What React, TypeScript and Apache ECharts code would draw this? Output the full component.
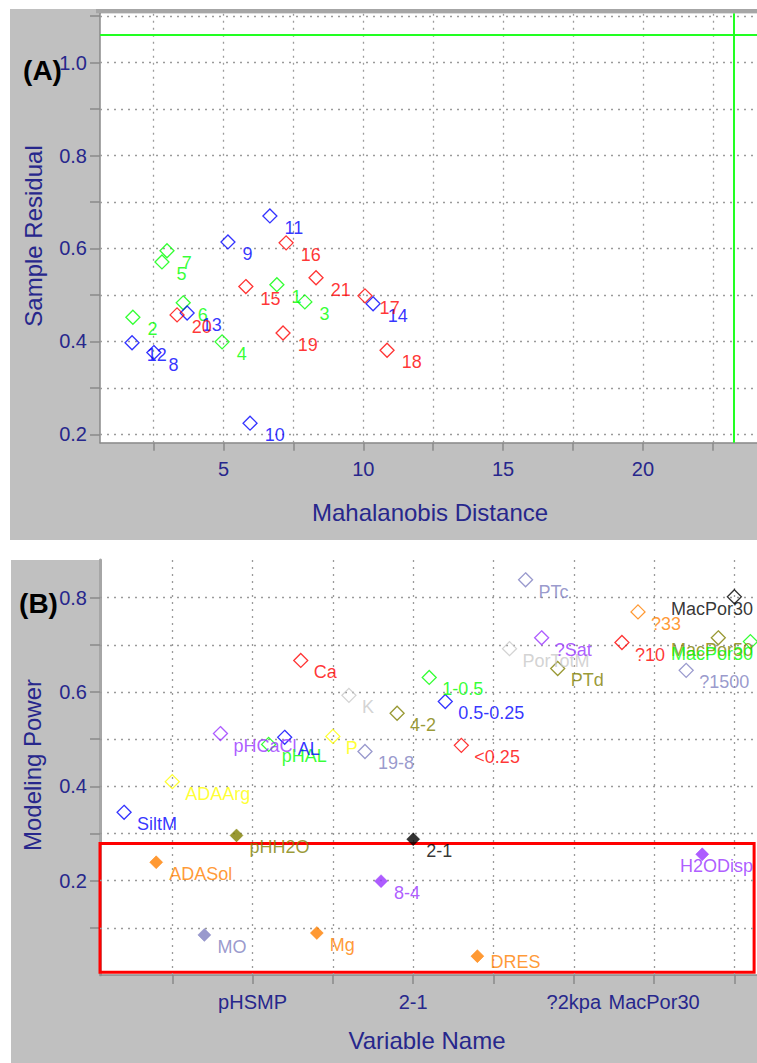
import React, { useEffect, useRef } from "react";
import * as echarts from "echarts";

// ---------- Panel A: sample residual vs Mahalanobis distance ----------
const sampleIds = ["1","2","3","4","5","6","7","8","9","10","11","12","13","14","15","16","17","18","19","20","21"];
const sampleClass = ["1","1","1","1","1","1","1","2","2","2","2","2","2","2","3","3","3","3","3","3","3"];
const mahalanobisDistance = [6.91, 1.76, 7.91, 4.95, 2.8, 3.56, 2.98, 2.51, 5.16, 5.95, 6.66, 1.73, 3.7, 10.35, 5.8, 7.24, 10.06, 10.85, 7.13, 3.34, 8.31];
const sampleResidual = [0.522, 0.452, 0.485, 0.399, 0.571, 0.483, 0.595, 0.376, 0.614, 0.224, 0.67, 0.397, 0.461, 0.481, 0.518, 0.612, 0.498, 0.381, 0.418, 0.457, 0.537];
const residualLimit = 1.062;
const distanceLimit = 23.25;
const xRangeA = [0.584, 24.08];
const yRangeA = [0.182, 1.106];
const xTicksA = [2.5, 5, 7.5, 10, 12.5, 15, 17.5, 20, 22.5];
const xLabelsA = [5, 10, 15, 20];
const yTicksA = [0.2, 0.3, 0.4, 0.5, 0.6, 0.7, 0.8, 0.9, 1.0, 1.1];
const yLabelsA = [0.2, 0.4, 0.6, 0.8, 1.0];

// ---------- Panel B: modeling power per variable ----------
const variableIndex = [2, 4, 5, 7, 8, 9, 11, 12, 13, 14, 15, 16, 17, 18, 19, 20, 21, 22, 23, 24, 26, 27, 28, 29, 33, 34, 37, 38, 39, 40, 41];
const variableNames = ["SiltM", "ADASol", "ADAArg", "MO", "pHCaCl", "pHH2O", "pHAL", "AL", "Ca", "Mg", "P", "K", "19-8", "8-4", "4-2", "2-1", "1-0.5", "0.5-0.25", "<0.25", "DRES", "PorTotM", "PTc", "?Sat", "PTd", "?10", "?33", "?1500", "H2ODisp", "MacPor50", "MacPor30", "MacPor30"];
const modelingPower = [0.345, 0.239, 0.41, 0.085, 0.512, 0.296, 0.489, 0.504, 0.667, 0.089, 0.506, 0.593, 0.474, 0.199, 0.555, 0.288, 0.631, 0.58, 0.487, 0.04, 0.692, 0.838, 0.715, 0.65, 0.705, 0.77, 0.646, 0.256, 0.715, 0.802, 0.707];
const lowPowerThreshold = 0.3;
const lowPowerBoxX = [0.5, 41.23];
const lowPowerBoxY = [0.006, 0.279];
const xRangeB = [0.5, 41.41];
const yRangeB = [0, 0.88];
const xTicksB = [5, 10, 15, 20, 25, 30, 35, 40];
const xTickLabelValuesB = [10, 20, 30, 35];
const xTickLabelNamesB = ["pHSMP", "2-1", "?2kpa", "MacPor30"];
const yTicksB = [0.1, 0.2, 0.3, 0.4, 0.5, 0.6, 0.7, 0.8];
const yLabelsB = [0.2, 0.4, 0.6, 0.8];

// ---------- styles ----------
const FONT = "'Liberation Sans', Arial, sans-serif";
const AXIS_TEXT = "#27278c";
const CLASS_COLORS: Record<string, string> = { "1": "#00ff00", "2": "#0000ff", "3": "#ff0000" };
// colour cycle of the variables by index (mod 10)
const VAR_PALETTE = ["#000000", "#00ff00", "#0000ff", "#ff0000", "#ff8000", "#ffff00", "#c8c8c8", "#8080c0", "#9933ff", "#808000"];
const GRID_LINE = { type: [2, 5] as any, color: "#9a9a9a", width: 1.3 };

export default function App() {
  const ref = useRef<HTMLDivElement>(null);

  useEffect(() => {
    if (!ref.current) return;
    const chart = echarts.init(ref.current, undefined, { renderer: "svg" });
    const W = 757;
    const PLOT_B_BOTTOM = 971;

    const labelBase = {
      show: true,
      position: "right" as const,
      distance: 7,
      offset: [0, 12],
      formatter: "{b}",
      fontSize: 18,
      fontFamily: FONT,
    };

    const classSeries = ["1", "2", "3"].map((c) => {
      const col = CLASS_COLORS[c];
      return {
        type: "scatter",
        name: "Class " + c,
        xAxisIndex: 0,
        yAxisIndex: 0,
        symbol: "diamond",
        symbolSize: 14,
        z: 5,
        silent: true,
        itemStyle: { color: "rgba(0,0,0,0)", borderColor: col, borderWidth: 1.3 },
        label: { ...labelBase, color: col },
        data: sampleIds
          .map((id, i) => ({ id, i }))
          .filter((d) => sampleClass[d.i] === c)
          .map((d) => ({ name: d.id, value: [mahalanobisDistance[d.i], sampleResidual[d.i]] })),
      };
    });

    const varData = variableIndex.map((idx, i) => {
      const col = VAR_PALETTE[idx % 10];
      const filled = modelingPower[i] < lowPowerThreshold;
      return {
        name: variableNames[i],
        value: [idx, modelingPower[i]],
        symbolSize: filled ? 13 : 14,
        itemStyle: filled
          ? { color: col, borderColor: col, borderWidth: 0.5 }
          : { color: "rgba(0,0,0,0)", borderColor: col, borderWidth: 1.3 },
        label: { color: col },
      };
    });

    const axisLineStyle = { color: "#8a8a8a", width: 1.5 };

    const option: any = {
      animation: false,
      backgroundColor: "#ffffff",
      textStyle: { fontFamily: FONT },
      grid: [
        { left: 100, top: 13.3, right: 0, height: 429.4, show: true, backgroundColor: "#ffffff", borderWidth: 0, z: 0 },
        { left: 100, top: 560, right: 0, height: 415, show: true, backgroundColor: "#ffffff", borderWidth: 0, z: 0 },
      ],
      xAxis: [
        {
          type: "value", gridIndex: 0, min: xRangeA[0], max: xRangeA[1],
          axisLine: { show: true, onZero: false, lineStyle: axisLineStyle },
          axisTick: { show: true, length: 8, customValues: xTicksA, lineStyle: { color: "#8a8a8a", width: 1.5 } },
          axisLabel: { customValues: xLabelsA, color: AXIS_TEXT, fontSize: 20, margin: 16, fontFamily: FONT, formatter: (v: number) => String(v) },
          splitLine: { show: false },
        },
        {
          type: "value", gridIndex: 1, min: xRangeB[0], max: xRangeB[1],
          axisLine: { show: true, onZero: false, lineStyle: axisLineStyle },
          axisTick: { show: true, length: 9, customValues: xTicksB, lineStyle: { color: "#8a8a8a", width: 1.5 } },
          axisLabel: {
            customValues: xTickLabelValuesB, color: AXIS_TEXT, fontSize: 20, margin: 17, fontFamily: FONT,
            formatter: (v: number) => xTickLabelNamesB[xTickLabelValuesB.indexOf(Math.round(v))] ?? "",
          },
          splitLine: { show: false },
        },
      ],
      yAxis: [
        {
          type: "value", gridIndex: 0, min: yRangeA[0], max: yRangeA[1],
          axisLine: { show: true, onZero: false, lineStyle: axisLineStyle },
          axisTick: { show: true, length: 10, customValues: yTicksA, lineStyle: { color: "#8a8a8a", width: 1.5 } },
          axisLabel: { customValues: yLabelsA, color: AXIS_TEXT, fontSize: 20, margin: 13, fontFamily: FONT, formatter: (v: number) => v.toFixed(1) },
          splitLine: { show: false },
        },
        {
          type: "value", gridIndex: 1, min: yRangeB[0], max: yRangeB[1],
          axisLine: { show: true, onZero: false, lineStyle: { color: "#a6a6a6", width: 3 } },
          axisTick: { show: true, length: 10, customValues: yTicksB, lineStyle: { color: "#8a8a8a", width: 1.5 } },
          axisLabel: { customValues: yLabelsB, color: AXIS_TEXT, fontSize: 20, margin: 13, fontFamily: FONT, formatter: (v: number) => v.toFixed(1) },
          splitLine: { show: false },
        },
      ],
      graphic: [
        { type: "rect", z: -10, shape: { x: 10, y: 9, width: W - 10, height: 531 }, style: { fill: "#c0c0c0" }, silent: true },
        { type: "rect", z: -10, shape: { x: 11, y: 560, width: W - 11, height: 503 }, style: { fill: "#c0c0c0" }, silent: true },
        { type: "rect", z: 50, shape: { x: 96, y: 9, width: W - 96, height: 4.3 }, style: { fill: "#a6a6a6" }, silent: true },
        { type: "text", z: 60, x: 42.5, y: 70, style: { text: "(A)", font: `bold 28px ${FONT}`, fill: "#000", align: "center", verticalAlign: "middle" } },
        { type: "text", z: 60, x: 38.5, y: 603, style: { text: "(B)", font: `bold 28px ${FONT}`, fill: "#000", align: "center", verticalAlign: "middle" } },
        { type: "text", z: 60, x: 430, y: 512, style: { text: "Mahalanobis Distance", font: `24px ${FONT}`, fill: AXIS_TEXT, align: "center", verticalAlign: "middle" } },
        { type: "text", z: 60, x: 427, y: 1040, style: { text: "Variable Name", font: `24px ${FONT}`, fill: AXIS_TEXT, align: "center", verticalAlign: "middle" } },
        { type: "text", z: 60, x: 33, y: 236, rotation: Math.PI / 2, style: { text: "Sample Residual", font: `24px ${FONT}`, fill: AXIS_TEXT, align: "center", verticalAlign: "middle" } },
        { type: "text", z: 60, x: 32, y: 765, rotation: Math.PI / 2, style: { text: "Modeling Power", font: `24px ${FONT}`, fill: AXIS_TEXT, align: "center", verticalAlign: "middle" } },
      ],
      series: [
        {
          type: "scatter", xAxisIndex: 0, yAxisIndex: 0, data: [], silent: true, z: 1,
          markLine: {
            silent: true, symbol: "none", label: { show: false }, lineStyle: GRID_LINE,
            data: [...xTicksA.map((v) => ({ xAxis: v })), ...yTicksA.map((v) => ({ yAxis: v }))],
          },
        },
        {
          type: "scatter", xAxisIndex: 0, yAxisIndex: 0, data: [], silent: true, z: 2,
          markLine: {
            silent: true, symbol: "none", label: { show: false },
            lineStyle: { type: "solid", color: "#22ff22", width: 2 },
            data: [{ yAxis: residualLimit }, { xAxis: distanceLimit }],
          },
        },
        ...classSeries,
        {
          type: "scatter", xAxisIndex: 1, yAxisIndex: 1, data: [], silent: true, z: 1,
          markLine: {
            silent: true, symbol: "none", label: { show: false }, lineStyle: GRID_LINE,
            data: [...xTicksB.map((v) => ({ xAxis: v })), ...yTicksB.map((v) => ({ yAxis: v }))],
          },
        },
        {
          type: "scatter", xAxisIndex: 1, yAxisIndex: 1, data: [], silent: true, z: 2,
          markArea: {
            silent: true,
            itemStyle: { color: "rgba(0,0,0,0)", borderColor: "#ff0000", borderWidth: 3 },
            data: [[{ coord: [lowPowerBoxX[0], lowPowerBoxY[0]] }, { coord: [lowPowerBoxX[1], lowPowerBoxY[1]] }]],
          },
        },
        {
          type: "scatter", name: "Variables", xAxisIndex: 1, yAxisIndex: 1,
          symbol: "diamond", z: 5, silent: true,
          label: { ...labelBase, offset: [0, 0] },
          labelLayout: (p: any) => {
            const s = p.rect;
            const r = p.labelRect;
            const limit = W - 4;
            const cx = s.x + s.width / 2;
            const cy = s.y + s.height / 2;
            let x = cx + 13;
            if (x + r.width > limit) x = limit - r.width;
            let y = cy + 12;
            if (y + r.height / 2 > PLOT_B_BOTTOM) y = PLOT_B_BOTTOM - r.height / 2;
            return { x, y, align: "left", verticalAlign: "middle" };
          },
          data: varData,
        },
      ],
    };

    chart.setOption(option);
    return () => chart.dispose();
  }, []);

  return (
    <div
      ref={ref}
      style={{ position: "absolute", left: 0, top: 0, width: 757, height: 1063, background: "#fff" }}
    />
  );
}
